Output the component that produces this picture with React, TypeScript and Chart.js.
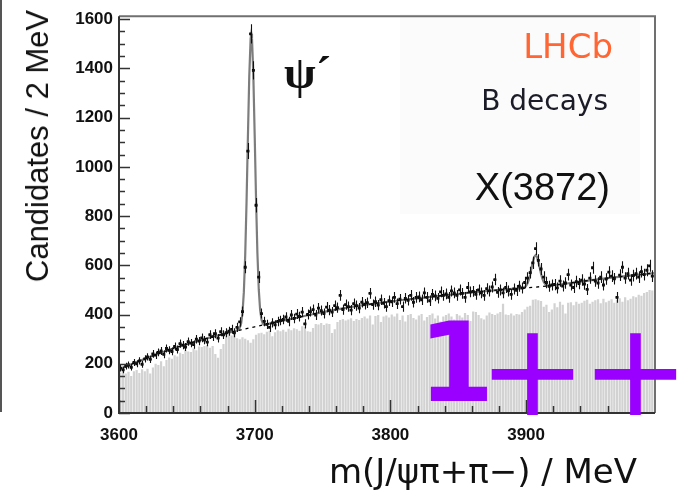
import React, { useEffect, useRef } from 'react';
import { Chart, registerables } from 'chart.js';

Chart.register(...registerables);

// ---- histogram definition (2 MeV bins) ----
const BIN_START = 3601;
const BIN_WIDTH = 2;

// candidates per bin (data points)
const COUNTS = [
  182, 175, 190, 195, 186, 205, 200, 212, 198, 220,
  228, 218, 240, 235, 246, 252, 238, 262, 255, 250,
  270, 258, 282, 276, 268, 290, 284, 278, 300, 292,
  305, 296, 288, 318, 310, 322, 304, 330, 318, 326,
  332, 340, 326, 348, 370, 412, 592, 1064, 1540, 1392,
  844, 552, 404, 372, 360, 348, 366, 358, 372, 376,
  380, 390, 372, 398, 384, 402, 392, 410, 362, 400,
  412, 420, 398, 426, 416, 404, 430, 418, 410, 436,
  428, 478, 420, 440, 432, 418, 444, 436, 426, 450,
  442, 448, 486, 440, 452, 438, 460, 446, 432, 456,
  452, 470, 444, 462, 432, 466, 458, 478, 450, 470,
  472, 460, 488, 470, 456, 482, 476, 466, 492, 478,
  484, 470, 496, 488, 478, 500, 486, 470, 510, 492,
  494, 482, 500, 488, 478, 505, 496, 512, 542, 490,
  500, 488, 510, 496, 482, 504, 498, 515, 508, 530,
  548, 570, 610, 668, 620, 585, 552, 530, 515, 520,
  522, 508, 536, 516, 528, 562, 520, 510, 534, 526,
  540, 524, 502, 548, 590, 536, 528, 552, 520, 544,
  572, 556, 545, 470, 560, 592, 548, 566, 540, 558,
  566, 552, 574, 562, 580, 598, 556,
];

// grey background-like histogram
const GREY_HIST = [
  165, 172, 160, 168, 150, 170, 175, 162, 178, 170,
  180, 160, 185, 200, 195, 210, 190, 215, 225, 220,
  235, 230, 245, 240, 255, 250, 248, 262, 255, 270,
  268, 272, 275, 265, 272, 240, 224, 260, 280, 318,
  322, 315, 320, 304, 300, 308, 302, 296, 285, 300,
  318, 324, 326, 320, 330, 334, 312, 328, 336, 332,
  338, 330, 342, 336, 344, 340, 334, 352, 350, 332,
  330, 345, 362, 360, 366, 358, 364, 362, 325, 340,
  370, 378, 382, 376, 380, 385, 374, 382, 378, 386,
  392, 384, 396, 360, 394, 398, 370, 392, 396, 388,
  400, 392, 404, 378, 396, 372, 398, 402, 386, 380,
  396, 402, 376, 390, 398, 404, 384, 396, 372, 392,
  398, 404, 392, 380, 402, 396, 388, 406, 398, 374,
  412, 410, 398, 385, 380, 396, 408, 402, 398, 404,
  410, 444, 400, 398, 404, 396, 402, 400, 410, 420,
  432, 436, 460, 462, 458, 455, 432, 440, 410, 420,
  446, 430, 452, 440, 404, 448, 450, 438, 452, 444,
  448, 456, 460, 444, 452, 458, 462, 446, 464, 450,
  456, 462, 448, 460, 466, 452, 470, 458, 464, 474,
  470, 480, 476, 488, 492, 500, 498,
];

// dashed background component of the fit
const BG_MASS = [
  3600, 3610, 3620, 3630, 3640, 3650, 3660, 3670, 3680, 3690,
  3700, 3710, 3720, 3730, 3740, 3750, 3760, 3770, 3780, 3790,
  3800, 3810, 3820, 3830, 3840, 3850, 3860, 3870, 3880, 3890,
  3900, 3910, 3920, 3930, 3940, 3950, 3960, 3970, 3980, 3990, 3995,
];
const BG_VALUES = [
  178, 200, 222, 243, 262, 280, 296, 311, 325, 338,
  350, 362, 374, 386, 398, 410, 420, 430, 438, 446,
  453, 460, 466, 472, 478, 484, 490, 495, 500, 504,
  508, 513, 519, 526, 534, 541, 548, 554, 560, 566, 568,
];

// total fit (solid grey curve)
const FIT_MASS = [
  3600, 3610, 3620, 3630, 3640, 3650, 3660, 3670, 3680, 3686, 3688,
  3689, 3690, 3691, 3692, 3693, 3694, 3695, 3696, 3697, 3697.5,
  3698, 3699, 3700, 3701, 3702, 3703, 3704, 3705, 3706, 3707,
  3710, 3720, 3730, 3740, 3750, 3760, 3770, 3780, 3790, 3800,
  3810, 3820, 3830, 3840, 3850, 3860, 3870, 3880, 3890,
  3896, 3898,
  3899, 3900, 3901, 3902, 3903, 3904, 3905, 3906, 3907, 3908,
  3909, 3910, 3911, 3912, 3913, 3914, 3915, 3916,
  3920, 3930, 3940, 3950, 3960, 3970, 3980, 3990, 3995,
];
const FIT_VALUES = [
  178, 200, 222, 243, 262, 280, 296, 311, 325, 333, 339,
  346, 364, 406, 491, 640, 859, 1122, 1369, 1521, 1541,
  1522, 1372, 1127, 866, 649, 502, 419, 379, 363, 358,
  362, 374, 386, 398, 410, 420, 430, 438, 446, 453,
  460, 466, 472, 478, 484, 490, 495, 500, 504,
  506, 507,
  511, 517, 526, 541, 562, 589, 614, 634, 641, 635,
  616, 592, 566, 546, 532, 524, 520, 518,
  519, 526, 534, 541, 548, 554, 560, 566, 568,
];

const X_TICKS = [3600, 3700, 3800, 3900];
const Y_TICKS = [0, 200, 400, 600, 800, 1000, 1200, 1400, 1600];
const X_MIN = 3600;
const X_MAX = 3995;
const Y_MIN = 0;
const Y_MAX = 1612;

const errorBarsPlugin = {
  id: 'errorBars',
  afterDatasetsDraw(chart: any) {
    const { ctx, chartArea, scales } = chart;
    const x = scales.x;
    const y = scales.y;
    ctx.save();
    ctx.beginPath();
    ctx.rect(chartArea.left, chartArea.top, chartArea.right - chartArea.left, chartArea.bottom - chartArea.top);
    ctx.clip();
    ctx.strokeStyle = '#111';
    ctx.lineWidth = 1.1;
    COUNTS.forEach((n, i) => {
      const m = BIN_START + i * BIN_WIDTH;
      const err = Math.sqrt(n);
      const px = Math.round(x.getPixelForValue(m)) + 0.5;
      const py = y.getPixelForValue(n);
      ctx.beginPath();
      ctx.moveTo(px, y.getPixelForValue(n - err));
      ctx.lineTo(px, y.getPixelForValue(n + err));
      ctx.moveTo(x.getPixelForValue(m - BIN_WIDTH / 2), py);
      ctx.lineTo(x.getPixelForValue(m + BIN_WIDTH / 2), py);
      ctx.stroke();
    });
    ctx.restore();
  },
};

const framePlugin = {
  id: 'frame',
  afterDraw(chart: any) {
    const { ctx, chartArea, scales } = chart;
    const x = scales.x;
    const y = scales.y;
    const { left, right, top, bottom } = chartArea;
    ctx.save();
    ctx.lineWidth = 2;
    ctx.strokeStyle = '#707070';
    ctx.beginPath();
    ctx.moveTo(left, top);
    ctx.lineTo(right, top);
    ctx.lineTo(right, bottom);
    ctx.stroke();
    ctx.strokeStyle = '#333';
    ctx.beginPath();
    ctx.moveTo(left, top);
    ctx.lineTo(left, bottom);
    ctx.lineTo(right, bottom);
    ctx.stroke();
    ctx.lineWidth = 1.5;
    // y ticks (inward)
    for (let v = Y_MIN; v <= 1600; v += 50) {
      const py = Math.round(y.getPixelForValue(v)) + 0.5;
      const len = v % 200 === 0 ? 11 : 6;
      ctx.beginPath();
      ctx.moveTo(left, py);
      ctx.lineTo(left + len, py);
      ctx.stroke();
    }
    // x ticks (inward)
    for (let v = X_MIN; v <= X_MAX; v += 20) {
      const px = Math.round(x.getPixelForValue(v)) + 0.5;
      const len = v % 100 === 0 ? 13 : 7;
      ctx.beginPath();
      ctx.moveTo(px, bottom);
      ctx.lineTo(px, bottom - len);
      ctx.stroke();
    }
    ctx.restore();
  },
};

const abs = (s: React.CSSProperties): React.CSSProperties => ({
  position: 'absolute',
  whiteSpace: 'nowrap',
  lineHeight: 1,
  margin: 0,
  ...s,
});

export default function App() {
  const canvasRef = useRef<HTMLCanvasElement>(null);

  useEffect(() => {
    document.body.style.margin = '0';
    const masses = COUNTS.map((_, i) => BIN_START + i * BIN_WIDTH);
    const tickFont = { family: 'Liberation Sans', size: 17, weight: 'bold' as const };
    const chart = new Chart(canvasRef.current as HTMLCanvasElement, {
      type: 'bar',
      data: {
        datasets: [
          {
            type: 'scatter',
            label: 'Data',
            data: COUNTS.map((v, i) => ({ x: masses[i], y: v })),
            pointStyle: 'rect',
            pointRadius: 2,
            pointBackgroundColor: '#000',
            pointBorderWidth: 0,
            order: 1,
          } as any,
          {
            type: 'line',
            label: 'Background',
            data: BG_MASS.map((m, i) => ({ x: m, y: BG_VALUES[i] })),
            borderColor: '#000',
            borderWidth: 1.3,
            borderDash: [3, 4],
            pointRadius: 0,
            tension: 0,
            order: 2,
          } as any,
          {
            type: 'line',
            label: 'Fit',
            data: FIT_MASS.map((m, i) => ({ x: m, y: FIT_VALUES[i] })),
            borderColor: '#7d7d7d',
            borderWidth: 2.2,
            pointRadius: 0,
            tension: 0,
            order: 3,
          } as any,
          {
            type: 'bar',
            label: 'Grey histogram',
            data: GREY_HIST.map((v, i) => ({ x: masses[i], y: v })),
            backgroundColor: '#d2d2d2',
            borderWidth: 0,
            barPercentage: 0.82,
            categoryPercentage: 1,
            order: 4,
          } as any,
        ],
      },
      options: {
        responsive: false,
        animation: false,
        devicePixelRatio: 1,
        layout: { padding: { top: 10, right: 30, left: 0, bottom: 0 } },
        plugins: {
          legend: { display: false },
          tooltip: { enabled: false },
        },
        scales: {
          x: {
            type: 'linear',
            min: X_MIN,
            max: X_MAX,
            offset: false,
            grid: { display: false, drawTicks: false },
            border: { display: false },
            afterBuildTicks: (s: any) => {
              s.ticks = X_TICKS.map((v) => ({ value: v }));
            },
            afterFit: (s: any) => {
              s.height = 82;
            },
            ticks: {
              font: tickFont,
              color: '#111',
              padding: 12,
              maxRotation: 0,
              autoSkip: false,
              callback: (v: any) => String(v),
            },
          },
          y: {
            type: 'linear',
            min: Y_MIN,
            max: Y_MAX,
            grid: { display: false, drawTicks: false },
            border: { display: false },
            afterBuildTicks: (s: any) => {
              s.ticks = Y_TICKS.map((v) => ({ value: v }));
            },
            afterFit: (s: any) => {
              s.width = 119;
            },
            ticks: {
              font: tickFont,
              color: '#111',
              padding: 6,
              callback: (v: any) => String(v),
            },
          },
        },
      } as any,
      plugins: [errorBarsPlugin, framePlugin],
    });
    return () => chart.destroy();
  }, []);

  return (
    <div style={{ position: 'fixed', left: 0, top: 0, width: 685, height: 495, background: '#fff', overflow: 'hidden' }}>
      <div style={abs({ left: 0, top: 0, width: 2, height: 412, background: '#555' })} />
      <div style={abs({ left: 400, top: 14, width: 240, height: 200, background: '#fbfbfb' })} />
      <canvas ref={canvasRef} width={685} height={495} style={{ position: 'absolute', left: 0, top: 0, width: 685, height: 495 }} />
      <div
        style={abs({
          left: 38,
          top: 146,
          transform: 'translate(-50%, -50%) rotate(-90deg)',
          font: '31px "Liberation Sans", Arial, sans-serif',
          color: '#111',
        })}
      >
        Candidates / 2 MeV
      </div>
      <div style={abs({ right: 48, top: 451, font: '34px "DejaVu Sans", sans-serif', color: '#111' })}>
        m(J/ψπ+π−) / MeV
      </div>
      <div style={abs({ right: 72, top: 26, font: '34px "DejaVu Sans", sans-serif', color: '#ff6633' })}>LHCb</div>
      <div style={abs({ right: 77, top: 84, font: '28px "DejaVu Sans", sans-serif', color: '#1c1c28' })}>B decays</div>
      <div style={abs({ right: 75, top: 166, font: '38px "Liberation Sans", Arial, sans-serif', color: '#111' })}>X(3872)</div>
      <div style={abs({ left: 284, top: 46, font: 'bold 46px "Liberation Serif", serif', color: '#111' })}>ψ´</div>
      <div style={abs({ left: 418, top: 299, font: 'bold 110px "DejaVu Sans", sans-serif', color: '#9a00ff' })}>1</div>
      <div style={abs({ left: 478, top: 294, font: '130px "DejaVu Sans", sans-serif', color: '#9a00ff', letterSpacing: -6 })}>++</div>
    </div>
  );
}
